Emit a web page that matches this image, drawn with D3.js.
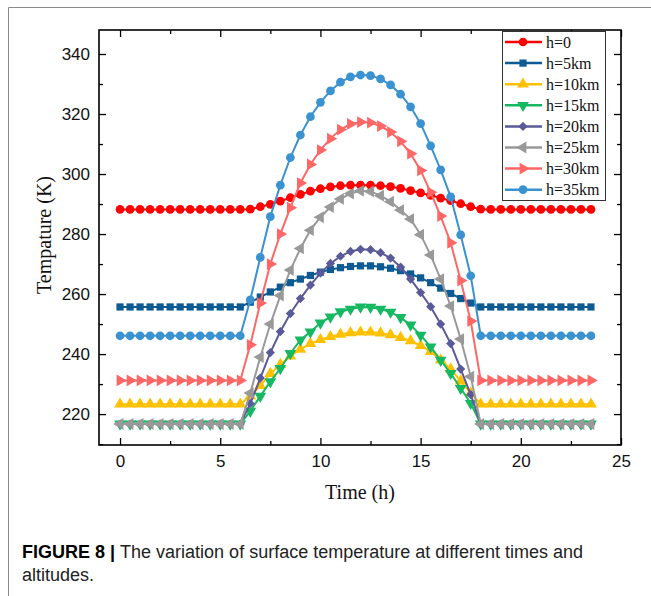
<!DOCTYPE html>
<html>
<head>
<meta charset="utf-8">
<script src="https://cdn.jsdelivr.net/npm/d3@7"></script>
<style>
  body { margin: 0; background: #fff; }
  svg { display: block; }
</style>
</head>
<body>
<script>
// time of day (h)
var times = [0, 0.5, 1, 1.5, 2, 2.5, 3, 3.5, 4, 4.5, 5, 5.5, 6,
             6.5, 7, 7.5, 8, 8.5, 9, 9.5, 10, 10.5, 11, 11.5, 12,
             12.5, 13, 13.5, 14, 14.5, 15, 15.5, 16, 16.5, 17, 17.5,
             18, 18.5, 19, 19.5, 20, 20.5, 21, 21.5, 22, 22.5, 23, 23.5];

var seriesNames = ["h=0", "h=5km", "h=10km", "h=15km", "h=20km", "h=25km", "h=30km", "h=35km"];

// surface temperature (K)
var h0 = [288.2, 288.2, 288.2, 288.2, 288.2, 288.2, 288.2, 288.2, 288.2, 288.2, 288.2, 288.2, 288.2,
          288.3, 289.1, 289.9, 291.0, 292.1, 293.2, 294.3, 295.1, 295.7, 296.1, 296.3, 296.3,
          296.3, 296.1, 295.8, 295.2, 294.5, 293.7, 292.9, 292.0, 291.1, 290.1, 289.1,
          288.3, 288.2, 288.2, 288.2, 288.2, 288.2, 288.2, 288.2, 288.2, 288.2, 288.2, 288.2];
var h5 = [255.7, 255.7, 255.7, 255.7, 255.7, 255.7, 255.7, 255.7, 255.7, 255.7, 255.7, 255.7, 255.7,
          257.3, 259.0, 260.7, 262.3, 263.8, 265.0, 266.2, 267.3, 268.2, 268.8, 269.2, 269.4,
          269.4, 269.1, 268.6, 267.8, 266.7, 265.4, 263.8, 262.0, 260.2, 258.5, 257.0,
          255.7, 255.7, 255.7, 255.7, 255.7, 255.7, 255.7, 255.7, 255.7, 255.7, 255.7, 255.7];
var h10 = [223.3, 223.3, 223.3, 223.3, 223.3, 223.3, 223.3, 223.3, 223.3, 223.3, 223.3, 223.3, 223.3,
           226.0, 229.5, 233.5, 236.5, 239.3, 241.6, 243.5, 244.8, 245.8, 246.6, 247.1, 247.3,
           247.3, 247.0, 246.4, 245.5, 244.4, 242.8, 240.8, 238.0, 235.0, 231.0, 227.0,
           223.3, 223.3, 223.3, 223.3, 223.3, 223.3, 223.3, 223.3, 223.3, 223.3, 223.3, 223.3];
var h15 = [216.7, 216.7, 216.7, 216.7, 216.7, 216.7, 216.7, 216.7, 216.7, 216.7, 216.7, 216.7, 216.7,
           221.0, 226.0, 230.8, 235.2, 240.2, 244.7, 247.4, 250.4, 252.4, 254.1, 255.0, 255.7,
           255.6, 255.0, 254.0, 252.2, 249.7, 246.3, 242.4, 238.0, 233.6, 228.6, 223.6,
           216.7, 216.7, 216.7, 216.7, 216.7, 216.7, 216.7, 216.7, 216.7, 216.7, 216.7, 216.7];
var h20 = [216.7, 216.7, 216.7, 216.7, 216.7, 216.7, 216.7, 216.7, 216.7, 216.7, 216.7, 216.7, 216.7,
           223.5, 232.0, 240.5, 247.5, 253.5, 258.5, 263.0, 267.0, 270.2, 272.6, 274.2, 274.9,
           274.8, 273.8, 272.0, 269.0, 265.0, 260.5, 255.8, 250.0, 243.5, 235.0, 226.5,
           216.7, 216.7, 216.7, 216.7, 216.7, 216.7, 216.7, 216.7, 216.7, 216.7, 216.7, 216.7];
var h25 = [216.7, 216.7, 216.7, 216.7, 216.7, 216.7, 216.7, 216.7, 216.7, 216.7, 216.7, 216.7, 216.7,
           227.0, 239.0, 250.0, 259.5, 268.0, 275.2, 281.3, 285.6, 289.0, 291.7, 293.5, 294.4,
           294.2, 292.8, 290.8, 288.0, 285.0, 279.8, 273.0, 265.0, 256.0, 245.0, 232.5,
           216.7, 216.7, 216.7, 216.7, 216.7, 216.7, 216.7, 216.7, 216.7, 216.7, 216.7, 216.7];
var h30 = [231.2, 231.2, 231.2, 231.2, 231.2, 231.2, 231.2, 231.2, 231.2, 231.2, 231.2, 231.2, 231.2,
           243.1, 257.0, 270.0, 280.0, 288.8, 297.0, 303.2, 308.0, 311.8, 314.8, 316.7, 317.3,
           317.1, 316.0, 314.0, 310.9, 306.8, 301.2, 293.9, 286.0, 277.1, 264.5, 251.0,
           231.2, 231.2, 231.2, 231.2, 231.2, 231.2, 231.2, 231.2, 231.2, 231.2, 231.2, 231.2];
var h35 = [246.1, 246.1, 246.1, 246.1, 246.1, 246.1, 246.1, 246.1, 246.1, 246.1, 246.1, 246.1, 246.1,
           258.1, 272.2, 285.8, 296.3, 305.5, 313.0, 319.1, 323.9, 327.7, 330.6, 332.4, 333.0,
           332.8, 331.7, 329.7, 326.6, 322.4, 316.8, 309.4, 301.4, 292.4, 279.7, 266.1,
           246.1, 246.1, 246.1, 246.1, 246.1, 246.1, 246.1, 246.1, 246.1, 246.1, 246.1, 246.1];

var xTicks = [0, 5, 10, 15, 20, 25];
var xMinorTicks = [2.5, 7.5, 12.5, 17.5, 22.5];
var yTicks = [220, 240, 260, 280, 300, 320, 340];
var yMinorTicks = [210, 230, 250, 270, 290, 310, 330];

var allSeries = [h0, h5, h10, h15, h20, h25, h30, h35];
var colors = ["#ff0000", "#0e5a92", "#ffc000", "#17b862", "#5a5a98", "#999999", "#ff6666", "#3a92d0"];
var markers = ["circle", "square", "up", "down", "diamond", "left", "right", "circle"];

var plotLeft = 99, plotRight = 621, plotTop = 30, plotBottom = 445;

var svg = d3.select("body")
            .append("svg")
            .attr("width", 651)
            .attr("height", 596)
            .style("background-color", "#fff");

// outer figure border
svg.append("path")
   .attr("d", "M8.5,596 L8.5,7.5 L651,7.5")
   .attr("fill", "none")
   .attr("stroke", "#8a8a8a")
   .attr("stroke-width", 1);

var x = d3.scaleLinear().domain([-1.05, 25]).range([plotLeft, plotRight]);
var y = d3.scaleLinear().domain([209.7, 348]).range([plotBottom, plotTop]);

function markerPath(kind) {
    var sym = d3.symbolCircle, size = 60;
    if (kind == "square") { sym = d3.symbolSquare; size = 52; }
    if (kind == "diamond") { sym = d3.symbolSquare; size = 42; }
    if (kind == "up" || kind == "down" || kind == "left" || kind == "right") { sym = d3.symbolTriangle; size = 60; }
    return d3.symbol().type(sym).size(size)();
}
function markerRotate(kind) {
    if (kind == "down") return 180;
    if (kind == "diamond") return 45;
    if (kind == "left") return -90;
    if (kind == "right") return 90;
    return 0;
}

// axes: ticks point inward, all four sides
function drawAxis(axis, tx, ty) {
    var g = svg.append("g")
               .attr("transform", "translate(" + tx + "," + ty + ")")
               .call(axis);
    g.select(".domain").remove();
    g.selectAll(".tick line").attr("stroke", "#000").attr("stroke-width", 1.3);
    g.selectAll("text")
     .attr("font-family", "'Liberation Sans', Arial, sans-serif")
     .attr("font-size", 17)
     .attr("fill", "#111");
    return g;
}

drawAxis(d3.axisBottom(x).tickValues(xTicks).tickSize(-7).tickPadding(10).tickFormat(d3.format("d")), 0, plotBottom);
drawAxis(d3.axisBottom(x).tickValues(xMinorTicks).tickSize(-4).tickFormat(""), 0, plotBottom);
drawAxis(d3.axisTop(x).tickValues(xTicks).tickSize(-7).tickFormat(""), 0, plotTop);
drawAxis(d3.axisTop(x).tickValues(xMinorTicks).tickSize(-4).tickFormat(""), 0, plotTop);
drawAxis(d3.axisLeft(y).tickValues(yTicks).tickSize(-7).tickPadding(9).tickFormat(d3.format("d")), plotLeft, 0);
drawAxis(d3.axisLeft(y).tickValues(yMinorTicks).tickSize(-4).tickFormat(""), plotLeft, 0);
drawAxis(d3.axisRight(y).tickValues(yTicks).tickSize(-7).tickFormat(""), plotRight, 0);
drawAxis(d3.axisRight(y).tickValues(yMinorTicks).tickSize(-4).tickFormat(""), plotRight, 0);

var plot = svg.append("g");

var line = d3.line()
             .x(function(d, i) { return x(times[i]); })
             .y(function(d) { return y(d); });

allSeries.forEach(function(values, k) {
    var g = plot.append("g");
    g.append("path")
     .attr("d", line(values))
     .attr("fill", "none")
     .attr("stroke", colors[k])
     .attr("stroke-width", 2);
    g.selectAll("path.pt")
     .data(values)
     .enter()
        .append("path")
        .attr("class", "pt")
        .attr("d", markerPath(markers[k]))
        .attr("transform", function(d, i) {
            return "translate(" + x(times[i]) + "," + y(d) + ") rotate(" + markerRotate(markers[k]) + ")";
        })
        .attr("fill", colors[k]);
});

// frame
svg.append("rect")
   .attr("x", plotLeft)
   .attr("y", plotTop)
   .attr("width", plotRight - plotLeft)
   .attr("height", plotBottom - plotTop)
   .attr("fill", "none")
   .attr("stroke", "#000")
   .attr("stroke-width", 1.6);

// legend
var legend = svg.append("g");
legend.append("rect")
      .attr("x", 502.5)
      .attr("y", 31.5)
      .attr("width", 103)
      .attr("height", 169)
      .attr("fill", "#fff")
      .attr("stroke", "#333")
      .attr("stroke-width", 1);

var items = legend.selectAll("g.item")
                  .data(seriesNames)
                  .enter()
                     .append("g")
                     .attr("class", "item")
                     .attr("transform", function(d, i) { return "translate(0," + (42 + i * 21.1) + ")"; });
items.append("line")
     .attr("x1", 505).attr("x2", 542)
     .attr("y1", 0).attr("y2", 0)
     .attr("stroke", function(d, i) { return colors[i]; })
     .attr("stroke-width", 2.5);
items.append("path")
     .attr("d", function(d, i) { return markerPath(markers[i]); })
     .attr("transform", function(d, i) { return "translate(523,0) rotate(" + markerRotate(markers[i]) + ")"; })
     .attr("fill", function(d, i) { return colors[i]; });
items.append("text")
     .attr("x", 546)
     .attr("y", 5.5)
     .attr("font-family", "'Liberation Serif', 'Times New Roman', serif")
     .attr("font-size", 16)
     .attr("fill", "#111")
     .text(function(d) { return d; });

// axis titles
svg.append("text")
   .attr("x", 360)
   .attr("y", 499)
   .attr("text-anchor", "middle")
   .attr("font-family", "'Liberation Serif', 'Times New Roman', serif")
   .attr("font-size", 20)
   .attr("fill", "#111")
   .text("Time (h)");

svg.append("text")
   .attr("transform", "translate(51,235) rotate(-90)")
   .attr("text-anchor", "middle")
   .attr("font-family", "'Liberation Serif', 'Times New Roman', serif")
   .attr("font-size", 20)
   .attr("fill", "#111")
   .text("Tempature (K)");

// caption
var cap = svg.append("text")
             .attr("x", 22)
             .attr("y", 558)
             .attr("font-family", "'Liberation Sans Narrow', 'Arial Narrow', 'Liberation Sans', sans-serif")
             .attr("font-size", 18)
             .attr("fill", "#222");
cap.append("tspan").attr("font-weight", "bold").attr("fill", "#000").text("FIGURE 8 | ");
cap.append("tspan").text("The variation of surface temperature at different times and");
svg.append("text")
   .attr("x", 22)
   .attr("y", 581)
   .attr("font-family", "'Liberation Sans Narrow', 'Arial Narrow', 'Liberation Sans', sans-serif")
   .attr("font-size", 18)
   .attr("fill", "#222")
   .text("altitudes.");
</script>
</body>
</html>
